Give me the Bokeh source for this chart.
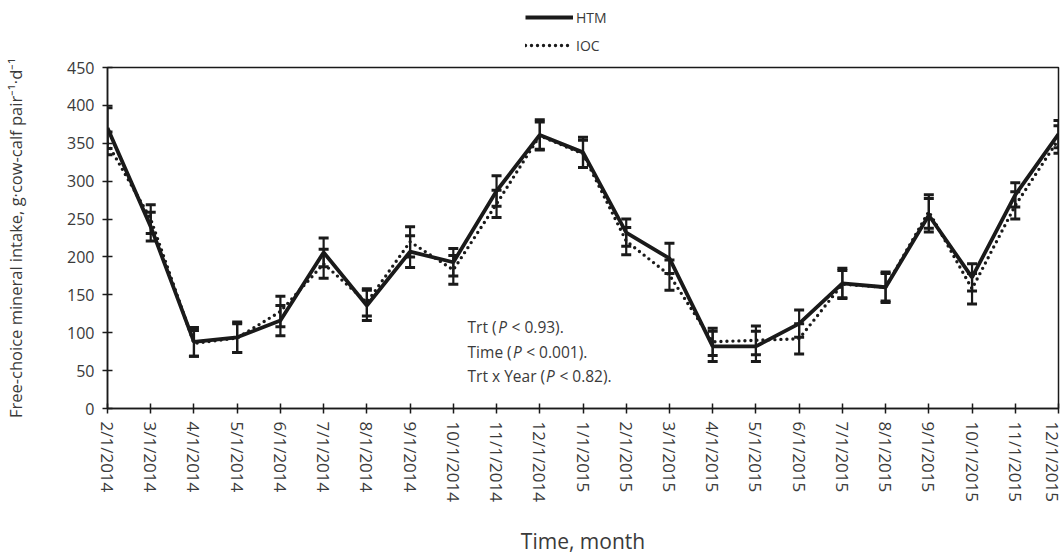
import math
from bokeh.plotting import figure
from bokeh.layouts import column
from bokeh.models import (ColumnDataSource, Whisker, TeeHead, Legend, LegendItem,
                          FixedTicker, Label, Range1d)
from bokeh.embed import file_html
from bokeh.resources import INLINE

months = ["2/1/2014", "3/1/2014", "4/1/2014", "5/1/2014", "6/1/2014", "7/1/2014",
          "8/1/2014", "9/1/2014", "10/1/2014", "11/1/2014", "12/1/2014", "1/1/2015",
          "2/1/2015", "3/1/2015", "4/1/2015", "5/1/2015", "6/1/2015", "7/1/2015",
          "8/1/2015", "9/1/2015", "10/1/2015", "11/1/2015", "12/1/2015"]
htm = [370, 240, 88, 94, 116, 206, 136, 207, 193, 287, 361, 338, 232, 198, 82, 82,
       112, 165, 160, 255, 173, 282, 362]
htm_se = [27, 19, 19, 20, 20, 19, 20, 21, 18, 20, 20, 20, 18, 20, 20, 20, 18, 20,
          20, 22, 18, 16, 18]
ioc = [350, 250, 86, 93, 128, 191, 140, 220, 183, 270, 360, 336, 221, 176, 88, 90,
       92, 164, 160, 260, 158, 268, 355]
ioc_se = [15, 19, 17, 19, 20, 19, 18, 20, 19, 18, 18, 18, 18, 20, 18, 19, 20, 18,
          18, 22, 20, 18, 18]
y_ticks = [0, 50, 100, 150, 200, 250, 300, 350, 400, 450]
series_names = ["HTM", "IOC"]
annotations = [("Trt (", "P", "< 0.93)."),
               ("Time (", "P", "< 0.001)."),
               ("Trt x Year (", "P", "< 0.82).")]

FONT = "Open Sans"
INK = "#1a1a1a"
GRAY = "#3a3a3a"
HTM_STYLE = dict(line_color=INK, line_width=3.8)
IOC_STYLE = dict(line_color=INK, line_width=3.4, line_dash="0 6", line_cap="round")

x = list(range(len(months)))
src_h = ColumnDataSource(dict(x=x, y=htm, lo=[a - b for a, b in zip(htm, htm_se)],
                              hi=[a + b for a, b in zip(htm, htm_se)]))
src_i = ColumnDataSource(dict(x=x, y=ioc, lo=[a - b for a, b in zip(ioc, ioc_se)],
                              hi=[a + b for a, b in zip(ioc, ioc_se)]))

# ---- legend strip on top ----
LEG_H = 56
lf = figure(width=1063, height=LEG_H, output_backend="svg", toolbar_location=None,
            x_range=Range1d(0, 1), y_range=Range1d(0, 1),
            x_axis_type=None, y_axis_type=None,
            min_border_left=0, min_border_right=0, min_border_top=0, min_border_bottom=0)
lf.outline_line_color = None
lf.xgrid.visible = False
lf.ygrid.visible = False
nan = float("nan")
d_h = lf.line([nan, nan], [nan, nan], **HTM_STYLE)
d_i = lf.line([nan, nan], [nan, nan], **IOC_STYLE)
legend = Legend(items=[LegendItem(label=series_names[0], renderers=[d_h]),
                       LegendItem(label=series_names[1], renderers=[d_i])],
                orientation="vertical", location=(418, 1),
                border_line_color=None, background_fill_alpha=0,
                glyph_width=48, glyph_height=20, label_height=20, spacing=8,
                padding=0, margin=0, label_standoff=3,
                label_text_font=FONT, label_text_font_size="14px", label_text_color=GRAY)
lf.add_layout(legend, "center")

# ---- main chart ----
p = figure(width=1063, height=560 - LEG_H, output_backend="svg", toolbar_location=None,
           x_range=Range1d(0, len(months) - 1), y_range=Range1d(0, 450),
           min_border_left=107, min_border_right=5, min_border_top=67 - LEG_H,
           min_border_bottom=152)
p.background_fill_color = "white"
p.border_fill_color = "white"
p.outline_line_color = INK
p.outline_line_width = 1.5
p.xgrid.visible = False
p.ygrid.visible = False

for src in (src_h, src_i):
    w = Whisker(source=src, base="x", lower="lo", upper="hi", line_color=INK, line_width=2.2,
                upper_head=TeeHead(size=10, line_color=INK, line_width=3),
                lower_head=TeeHead(size=10, line_color=INK, line_width=3))
    p.add_layout(w)

p.line("x", "y", source=src_i, **IOC_STYLE)
p.line("x", "y", source=src_h, **HTM_STYLE)

p.xaxis.ticker = FixedTicker(ticks=x)
p.xaxis.major_label_overrides = {i: m for i, m in enumerate(months)}
p.xaxis.major_label_orientation = -math.pi / 2
p.yaxis.ticker = FixedTicker(ticks=y_ticks)
for ax in (p.xaxis[0], p.yaxis[0]):
    ax.axis_line_color = INK
    ax.axis_line_width = 1.5
    ax.major_tick_line_color = INK
    ax.major_tick_line_width = 1.5
    ax.major_tick_in = 5
    ax.major_tick_out = 5
    ax.minor_tick_line_color = None
    ax.major_label_text_font = FONT
    ax.major_label_text_color = GRAY
    ax.axis_label_text_font = FONT
    ax.axis_label_text_color = GRAY
    ax.axis_label_text_font_style = "normal"
p.xaxis.major_label_text_font_size = "17px"
p.yaxis.major_label_text_font_size = "16px"
p.yaxis.axis_label = "Free-choice mineral intake, g\u00b7cow-calf pair\u207b\u00b9\u00b7d\u207b\u00b9"
p.yaxis.axis_label_text_font_size = "16.5px"
p.yaxis.axis_label_standoff = 37
p.xaxis.axis_label = "Time, month"
p.xaxis.axis_label_text_font_size = "21px"
p.xaxis.axis_label_standoff = 22
p.xaxis.major_label_standoff = 8
p.yaxis.major_label_standoff = 8

# annotation text with italic P
line_y = [107, 75, 43.5]
FS = 15.5
em = {"Trt (": 1.881, "Time (": 2.826, "Trt x Year (": 4.968}
for (a, b, c), yy in zip(annotations, line_y):
    common = dict(x=8.33, y=yy, y_units="data", text_font=FONT, text_font_size=f"{FS}px",
                  text_color=GRAY, text_baseline="middle")
    w1 = em[a] * FS + 1.5
    p.add_layout(Label(text=a, **common))
    p.add_layout(Label(text=b, x_offset=w1, text_font_style="italic", **common))
    p.add_layout(Label(text=c, x_offset=w1 + 0.60 * FS + 0.26 * FS, **common))

open("out.html", "w").write(file_html(column(lf, p), INLINE))
